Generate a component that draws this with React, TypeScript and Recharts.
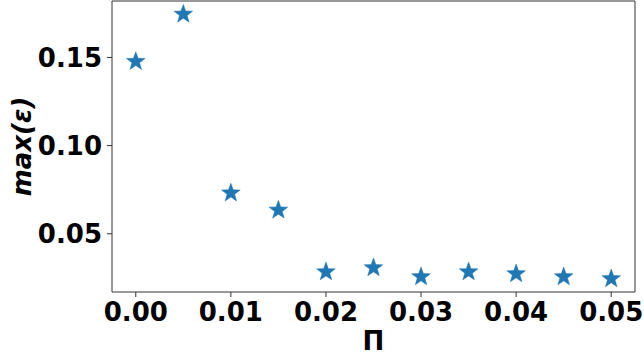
import React from "react";
import {
  ScatterChart,
  Scatter,
  XAxis,
  YAxis,
  ReferenceArea,
} from "recharts";

// values
const piValues = [0.0, 0.005, 0.01, 0.015, 0.02, 0.025, 0.03, 0.035, 0.04, 0.045, 0.05];
const maxEps = [0.1477, 0.1745, 0.0731, 0.0634, 0.0284, 0.0307, 0.0256, 0.0284, 0.0273, 0.0256, 0.0245];
const xTicks = [0, 0.01, 0.02, 0.03, 0.04, 0.05];
const yTicks = [0.05, 0.1, 0.15];

// matplotlib-like 5% padding around the data
const xDomain = [-0.0025, 0.0525];
const yDomain = [0.017, 0.182];

const data = piValues.map((pi, i) => ({ pi, eps: maxEps[i] }));

const FONT = "'DejaVu Sans', sans-serif";
const tickStyle = { fontFamily: FONT, fontSize: 26, fontWeight: "bold", fill: "#000" };

// matplotlib-style "*" marker
const Star = (props: { cx?: number; cy?: number }) => {
  const { cx = 0, cy = 0 } = props;
  const outer = 9.8;
  const inner = 4.0;
  const pts: string[] = [];
  for (let i = 0; i < 10; i++) {
    const r = i % 2 === 0 ? outer : inner;
    const a = -Math.PI / 2 + (i * Math.PI) / 5;
    pts.push(`${cx + r * Math.cos(a)},${cy + r * Math.sin(a)}`);
  }
  return <polygon points={pts.join(" ")} fill="#1f77b4" stroke="#1f77b4" strokeWidth={0.5} />;
};

export default function App() {
  return (
    <div style={{ position: "absolute", top: 0, left: 0 }}>
      <ScatterChart
        width={644}
        height={360}
        margin={{ top: 1, right: 9, bottom: 0, left: 0 }}
      >
        <XAxis
          type="number"
          dataKey="pi"
          domain={xDomain}
          ticks={xTicks}
          allowDataOverflow
          tickFormatter={(v: number) => v.toFixed(2)}
          tick={tickStyle}
          tickSize={5}
          tickMargin={6}
          height={68}
          axisLine={false}
          tickLine={{ stroke: "#333" }}
          label={({ viewBox }: any) => (
            <text
              x={viewBox.x + viewBox.width / 2}
              y={350}
              textAnchor="middle"
              style={{ fontFamily: FONT, fontSize: 26, fontWeight: "bold" }}
            >
              Π
            </text>
          )}
        />
        <YAxis
          type="number"
          dataKey="eps"
          domain={yDomain}
          ticks={yTicks}
          allowDataOverflow
          tickFormatter={(v: number) => v.toFixed(2)}
          tick={tickStyle}
          tickSize={5}
          tickMargin={5}
          width={112}
          axisLine={false}
          tickLine={{ stroke: "#333" }}
          label={({ viewBox }: any) => {
            const cy = viewBox.y + viewBox.height / 2;
            return (
              <text
                x={22}
                y={cy}
                transform={`rotate(-90, 22, ${cy})`}
                textAnchor="middle"
                dominantBaseline="central"
                style={{ fontFamily: FONT, fontSize: 26, fontWeight: "bold", fontStyle: "italic" }}
              >
                max(ε)
              </text>
            );
          }}
        />
        <ReferenceArea
          x1={xDomain[0]}
          x2={xDomain[1]}
          y1={yDomain[0]}
          y2={yDomain[1]}
          fill="none"
          stroke="#333"
          strokeWidth={1}
        />
        <Scatter data={data} shape={<Star />} isAnimationActive={false} />
      </ScatterChart>
    </div>
  );
}
